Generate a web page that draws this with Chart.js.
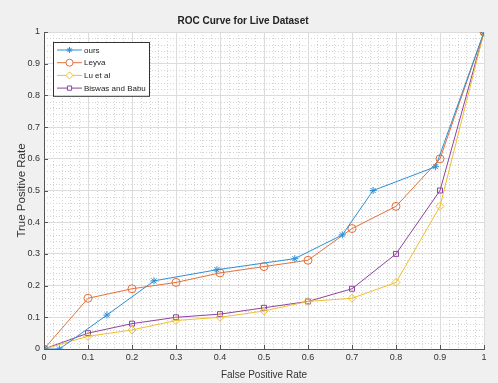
<!DOCTYPE html>
<html>
<head>
<meta charset="utf-8">
<script src="https://cdn.jsdelivr.net/npm/chart.js@4"></script>
<style>
  html, body { margin: 0; padding: 0; background: #f0f0f0; }
  #wrap { width: 498px; height: 383px; }
</style>
</head>
<body>
<div id="wrap"><canvas id="roc"></canvas></div>
<script>
// values
const oursFpr = [0, 0.035, 0.143, 0.25, 0.393, 0.57, 0.678, 0.748, 0.89, 1];
const oursTpr = [0, 0, 0.107, 0.215, 0.25, 0.285, 0.36, 0.5, 0.575, 1];
const fprSteps = [0, 0.1, 0.2, 0.3, 0.4, 0.5, 0.6, 0.7, 0.8, 0.9, 1];
const leyvaTpr = [0, 0.16, 0.19, 0.21, 0.24, 0.26, 0.28, 0.38, 0.45, 0.6, 1];
const luTpr = [0, 0.04, 0.06, 0.09, 0.1, 0.12, 0.15, 0.16, 0.21, 0.45, 1];
const biswasTpr = [0, 0.05, 0.08, 0.1, 0.11, 0.13, 0.15, 0.19, 0.3, 0.5, 1];
const seriesNames = ["ours", "Leyva", "Lu et al", "Biswas and Babu"];

const toPoints = (xs, ys) => xs.map((x, i) => ({ x: x, y: ys[i] }));
const FONT = "'Liberation Sans', Arial, sans-serif";

// gray figure background, white axes background, dotted minor grid
const backdrop = {
  id: "backdrop",
  beforeDraw(chart) {
    const { ctx, chartArea: a, scales } = chart;
    ctx.save();
    ctx.fillStyle = "#f0f0f0";
    ctx.fillRect(0, 0, chart.width, chart.height);
    ctx.fillStyle = "#ffffff";
    ctx.fillRect(a.left, a.top, a.right - a.left, a.bottom - a.top);
    ctx.strokeStyle = "#d4d4d4";
    ctx.lineWidth = 1;
    ctx.setLineDash([1, 2]);
    for (let i = 1; i < 50; i++) {
      if (i % 5 === 0) continue;
      const v = i / 50;
      const px = Math.round(scales.x.getPixelForValue(v)) + 0.5;
      ctx.beginPath();
      ctx.moveTo(px, a.top);
      ctx.lineTo(px, a.bottom);
      ctx.stroke();
      const py = Math.round(scales.y.getPixelForValue(v)) + 0.5;
      ctx.beginPath();
      ctx.moveTo(a.left, py);
      ctx.lineTo(a.right, py);
      ctx.stroke();
    }
    ctx.restore();
  },
  // small inward tick marks like matlab
  afterDatasetsDraw(chart) {
    const { ctx, chartArea: a, scales } = chart;
    ctx.save();
    ctx.strokeStyle = "#555555";
    ctx.lineWidth = 1;
    for (let i = 0; i <= 10; i++) {
      const px = Math.round(scales.x.getPixelForValue(i / 10)) + 0.5;
      ctx.beginPath();
      ctx.moveTo(px, a.bottom);
      ctx.lineTo(px, a.bottom - 4);
      ctx.stroke();
      const py = Math.round(scales.y.getPixelForValue(i / 10)) + 0.5;
      ctx.beginPath();
      ctx.moveTo(a.left, py);
      ctx.lineTo(a.left + 4, py);
      ctx.stroke();
    }
    ctx.restore();
  },
};

// boxed legend in the top left corner of the axes
const boxLegend = {
  id: "boxLegend",
  afterDatasetsDraw(chart) {
    const { ctx, chartArea: a } = chart;
    const left = a.left + 9, top = a.top + 10;
    const w = 96, rowH = 12.7;
    ctx.save();
    ctx.fillStyle = "#ffffff";
    ctx.fillRect(left, top, w, rowH * 4 + 3);
    ctx.strokeStyle = "#333333";
    ctx.lineWidth = 1;
    ctx.strokeRect(left + 0.5, top + 0.5, w, rowH * 4 + 3);
    ctx.font = "8px " + FONT;
    ctx.textBaseline = "middle";
    chart.data.datasets.forEach((ds, i) => {
      const y = top + 8 + i * rowH;
      ctx.strokeStyle = ds.borderColor;
      ctx.lineWidth = 1;
      ctx.beginPath();
      ctx.moveTo(left + 4, y);
      ctx.lineTo(left + 29, y);
      ctx.stroke();
      ctx.fillStyle = "#ffffff";
      Chart.helpers.drawPoint(ctx, {
        pointStyle: ds.pointStyle,
        radius: ds.pointRadius - 0.5,
        borderWidth: 1,
      }, left + 16.5, y);
      ctx.fillStyle = "#222222";
      ctx.fillText(ds.label, left + 31, y + 0.5);
    });
    ctx.restore();
  },
};

const colors = ["#2e8fd4", "#e4703a", "#f0bf2e", "#8e44a0"];
const styles = ["star", "circle", "rectRot", "rect"];
const radii = [3.5, 4, 4, 3.5];
const pointSets = [
  toPoints(oursFpr, oursTpr),
  toPoints(fprSteps, leyvaTpr),
  toPoints(fprSteps, luTpr),
  toPoints(fprSteps, biswasTpr),
];

const datasets = seriesNames.map((name, i) => ({
  label: name,
  data: pointSets[i],
  showLine: true,
  borderColor: colors[i],
  backgroundColor: "rgba(255,255,255,0)",
  borderWidth: 1,
  pointStyle: styles[i],
  pointRadius: radii[i],
  pointBorderWidth: 1,
  pointBorderColor: colors[i],
  pointBackgroundColor: "rgba(255,255,255,0)",
  order: i,
}));

const tickFont = { family: FONT, size: 9 };
const tickText = (v) => String(Math.round(v * 10) / 10);

new Chart(document.getElementById("roc"), {
  type: "scatter",
  data: { datasets: datasets },
  options: {
    responsive: true,
    maintainAspectRatio: false,
    animation: false,
    layout: { padding: { left: 2, right: 14, top: 0, bottom: 0 } },
    plugins: {
      legend: { display: false },
      tooltip: { enabled: false },
      title: {
        display: true,
        text: "ROC Curve for Live Dataset",
        color: "#222222",
        font: { family: FONT, size: 10, weight: "bold" },
        padding: { top: 15, bottom: 5 },
      },
    },
    scales: {
      x: {
        type: "linear",
        min: 0,
        max: 1,
        ticks: { stepSize: 0.1, color: "#333333", font: tickFont, padding: 3, callback: tickText },
        grid: { color: "#dcdcdc", drawTicks: false },
        border: { color: "#555555" },
        title: {
          display: true,
          text: "False Positive Rate",
          color: "#333333",
          font: { family: FONT, size: 10 },
          padding: { top: 2, bottom: 2 },
        },
        afterFit(scale) { scale.height = 34; },
      },
      y: {
        type: "linear",
        min: 0,
        max: 1,
        ticks: { stepSize: 0.1, color: "#333333", font: tickFont, padding: 4, callback: tickText },
        grid: { color: "#dcdcdc", drawTicks: false },
        border: { color: "#555555" },
        title: {
          display: true,
          text: "True Positive Rate",
          color: "#333333",
          font: { family: FONT, size: 11.5 },
          padding: { top: 13, bottom: 2 },
        },
        afterFit(scale) { scale.width = 42; },
      },
    },
  },
  plugins: [backdrop, boxLegend],
});
</script>
</body>
</html>
